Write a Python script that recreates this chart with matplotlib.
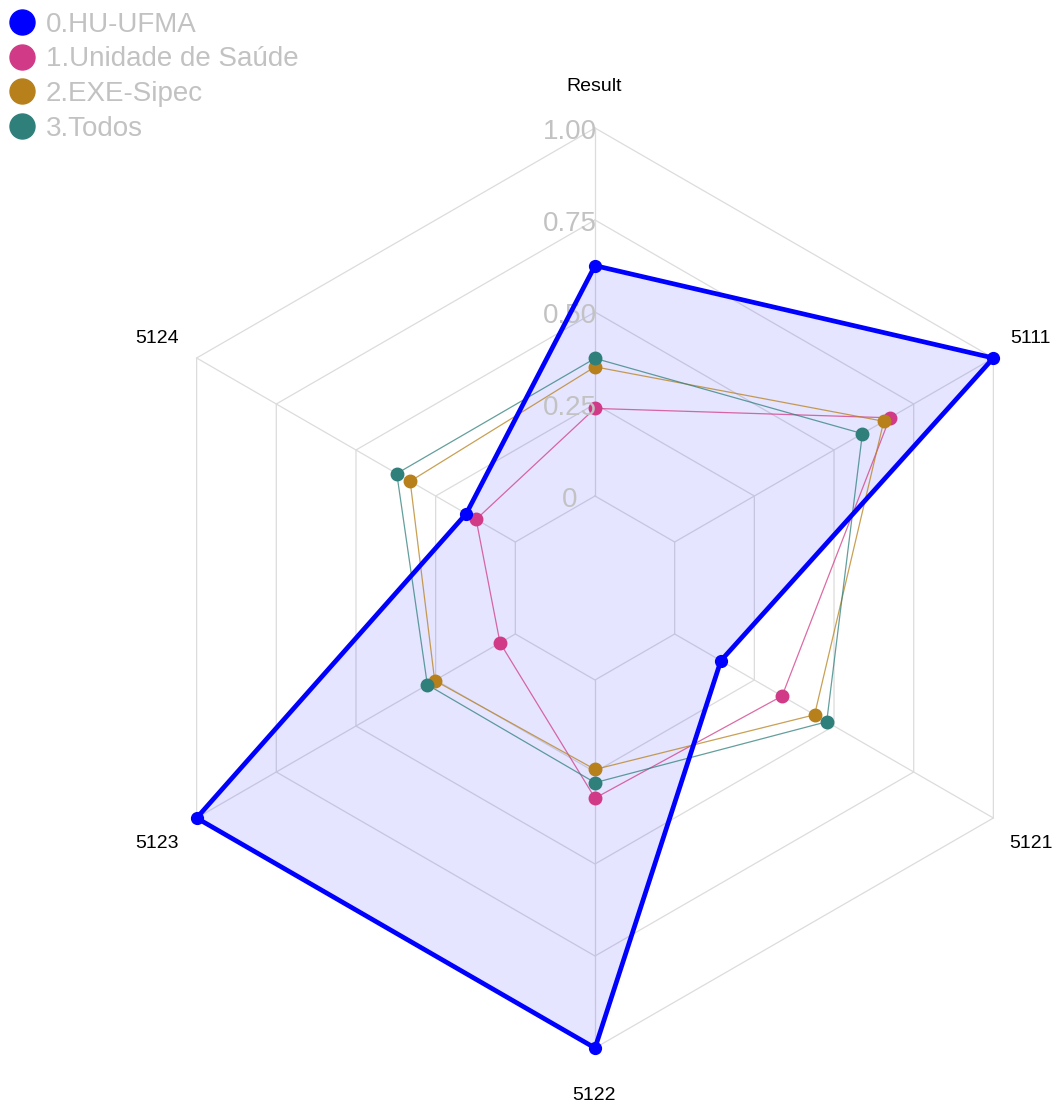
import numpy as np
import matplotlib
matplotlib.use("Agg")
import matplotlib.pyplot as plt
from matplotlib.lines import Line2D

plt.rcParams["font.family"] = ["Liberation Sans", "DejaVu Sans"]

# axes of the radar, clockwise from the top
AXES = ["Result", "5111", "5121", "5122", "5123", "5124"]
GRID_LEVELS = [0, 0.25, 0.5, 0.75, 1.0]
GRID_LABELS = ["0", "0.25", "0.50", "0.75", "1.00"]

# one list per group, same order as AXES
GROUPS = ["0.HU-UFMA", "1.Unidade de Saúde", "2.EXE-Sipec", "3.Todos"]
hu_ufma = [0.626, 1.0, 0.145, 1.0, 1.0, 0.154]
unidade_saude = [0.238, 0.675, 0.337, 0.321, 0.048, 0.123]
exe_sipec = [0.351, 0.656, 0.439, 0.243, 0.253, 0.330]
todos = [0.374, 0.589, 0.477, 0.279, 0.276, 0.372]

COLORS = ["#0000FF", "#D13A87", "#B7801B", "#2F7F7B"]
GRID_COLOR = "#DCDCDC"
LABEL_GREY = "#C2C2C2"

angles = np.linspace(0, 2 * np.pi, len(AXES), endpoint=False)
angles_c = np.append(angles, angles[0])

fig = plt.figure(figsize=(10.55, 11.02), dpi=100)
ax = fig.add_axes([135 / 1055, 54 / 1102, 920 / 1055, 920 / 1102], projection="polar")
ax.set_theta_zero_location("N")
ax.set_theta_direction(-1)
ax.set_ylim(0, 1)
ax.set_rorigin(-0.25)
ax.set_axis_off()

# hexagon grid + spokes
for lvl in GRID_LEVELS:
    ax.plot(angles_c, [lvl] * len(angles_c), color=GRID_COLOR, lw=0.9, zorder=1, clip_on=False)
for a in angles:
    ax.plot([a, a], [0, 1], color=GRID_COLOR, lw=0.9, zorder=1, clip_on=False)

# series
series = [hu_ufma, unidade_saude, exe_sipec, todos]
for i, vals in enumerate(series):
    v = np.append(vals, vals[0])
    if i == 0:
        ax.fill(angles_c, v, color=COLORS[i], alpha=0.1, lw=0, zorder=2, clip_on=False)
        ax.plot(angles_c, v, color=COLORS[i], lw=3.4, zorder=6, clip_on=False)
        ax.plot(angles, vals, "o", color=COLORS[i], ms=8.5, zorder=7, clip_on=False)
    else:
        ax.plot(angles_c, v, color=COLORS[i], lw=0.9, alpha=0.75, zorder=3, clip_on=False)
        ax.plot(angles, vals, "o", color=COLORS[i], ms=9, zorder=4, clip_on=False)

# grid value labels along the top axis
for lvl, lab in zip(GRID_LEVELS, GRID_LABELS):
    ax.annotate(lab, xy=(0, lvl), xytext=(-25, -4), textcoords="offset pixels",
                ha="center", va="center", fontsize=20, color=LABEL_GREY, zorder=5,
                annotation_clip=False)

# axis names
for a, name in zip(angles, AXES):
    ax.annotate(name, xy=(a, 1.12), xytext=(-1, -3), textcoords="offset pixels",
                ha="center", va="center", fontsize=14, color="black",
                annotation_clip=False)

handles = [Line2D([], [], marker="o", ls="", color=c, markersize=18) for c in COLORS]
fig.legend(handles, GROUPS, loc="upper left", bbox_to_anchor=(-4 / 1055, 1.0),
           frameon=False, fontsize=20, labelcolor=LABEL_GREY, handlelength=1.0,
           handletextpad=0.37, labelspacing=0.31, borderpad=0.42, borderaxespad=0.0)

fig.savefig("out.png", dpi=100)
